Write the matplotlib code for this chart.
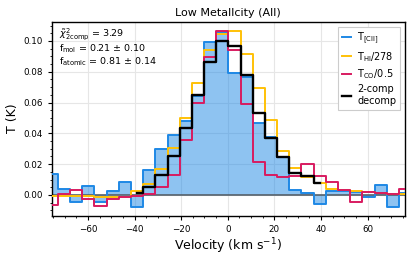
import numpy as np
import matplotlib
matplotlib.use("Agg")
import matplotlib.pyplot as plt
from matplotlib.ticker import MultipleLocator

# channel velocities (km/s)
velocity = [-75.5, -70.3, -65.1, -59.8, -54.6, -49.4, -44.2, -38.9, -33.7, -28.5,
            -23.2, -18.0, -12.8, -7.6, -2.3, 2.9, 8.1, 13.3, 18.6, 23.8,
            29.0, 34.2, 39.5, 44.7, 49.9, 55.1, 60.4, 65.6, 70.8, 76.0]

t_cii = [0.0133, 0.0038, -0.0046, 0.0060, -0.0043, 0.0027, 0.0083, -0.0076, 0.0162, 0.0300,
         0.0387, 0.0480, 0.0645, 0.0990, 0.1055, 0.0790, 0.0764, 0.0465, 0.0377, 0.0245,
         0.0035, 0.0015, -0.0058, 0.0028, 0.0028, 0.0022, -0.0013, 0.0065, -0.0076, 0.0015]

t_hi = [-0.0005, -0.0007, -0.0008, -0.0010, -0.0012, -0.0013, -0.0013, 0.0024, 0.0072, 0.0165,
        0.0302, 0.0498, 0.0727, 0.0940, 0.1045, 0.1067, 0.0918, 0.0693, 0.0487, 0.0285,
        0.0173, 0.0117, 0.0076, 0.0039, 0.0030, 0.0026, 0.0018, 0.0013, 0.0004, 0.0004]

t_co = [-0.0065, 0.0008, 0.0032, -0.0028, -0.0071, -0.0028, -0.0011, -0.0006, 0.0005, 0.0050,
        0.0130, 0.0357, 0.0600, 0.0896, 0.1067, 0.0940, 0.0590, 0.0216, 0.0130, 0.0115,
        0.0125, 0.0201, 0.0120, 0.0087, 0.0035, -0.0043, 0.0022, 0.0013, 0.0006, 0.0039]

decomp_velocity = velocity[7:23]
t_decomp = [0.0010, 0.0050, 0.0130, 0.0253, 0.0432, 0.0650, 0.0866, 0.1002, 0.0970, 0.0780,
            0.0535, 0.0368, 0.0245, 0.0141, 0.0123, 0.0076]

title = "Low Metallcity (All)"
stats_lines = [r"$\tilde{\chi}^2_{\rm 2comp}$ = 3.29",
               r"f$_{\rm mol}$ = 0.21 $\pm$ 0.10",
               r"f$_{\rm atomic}$ = 0.81 $\pm$ 0.14"]

c_blue = "#1E88E5"
c_yel = "#FFC107"
c_red = "#D81B60"

fig = plt.figure(figsize=(4.15, 2.58), dpi=100)
ax = fig.add_axes([0.1246, 0.164, 0.8514, 0.752])

ax.grid(True, color="#e6e6e6", lw=0.8, zorder=0)
ax.set_axisbelow(True)

ax.fill_between(velocity, t_cii, step="mid", color=c_blue, alpha=0.5, lw=0, zorder=2)
ax.axhline(0, color="#55606a", lw=1.2, zorder=2.5)
ax.step(velocity, t_cii, where="mid", color=c_blue, lw=1.4, label=r"T$_{\rm [CII]}$", zorder=3)
ax.step(velocity, t_hi, where="mid", color=c_yel, lw=1.4, label=r"T$_{\rm HI}$/278", zorder=4)
ax.step(velocity, t_co, where="mid", color=c_red, lw=1.4, label=r"T$_{\rm CO}$/0.5", zorder=5)
ax.step(decomp_velocity, t_decomp, where="mid", color="black", lw=1.7,
        label="2-comp\ndecomp", zorder=6)

ax.set_xlim(velocity[0], velocity[-1])
ax.set_ylim(-0.0135, 0.1125)
ax.xaxis.set_major_locator(MultipleLocator(20))
ax.xaxis.set_minor_locator(MultipleLocator(5))
ax.yaxis.set_major_locator(MultipleLocator(0.02))
ax.yaxis.set_minor_locator(MultipleLocator(0.005))
ax.tick_params(which="major", labelsize=6.3, length=3, width=0.8)
ax.tick_params(which="minor", length=1.5, width=0.6)
for s in ax.spines.values():
    s.set_linewidth(1.0)

ax.set_xlabel(r"Velocity (km s$^{-1}$)", fontsize=9, labelpad=2)
ax.set_ylabel("T (K)", fontsize=9, labelpad=3)
ax.set_title(title, fontsize=8.0, pad=4)

ax.text(0.022, 0.975, "\n".join(stats_lines), transform=ax.transAxes,
        fontsize=6.8, va="top", ha="left", linespacing=1.05)

leg = ax.legend(loc="upper right", fontsize=7.0, handlelength=1.0, handletextpad=0.6,
                borderpad=0.4, labelspacing=0.35, framealpha=1, edgecolor="#cccccc",
                fancybox=False)
leg.get_frame().set_linewidth(0.8)

fig.savefig("out.png", dpi=100)
